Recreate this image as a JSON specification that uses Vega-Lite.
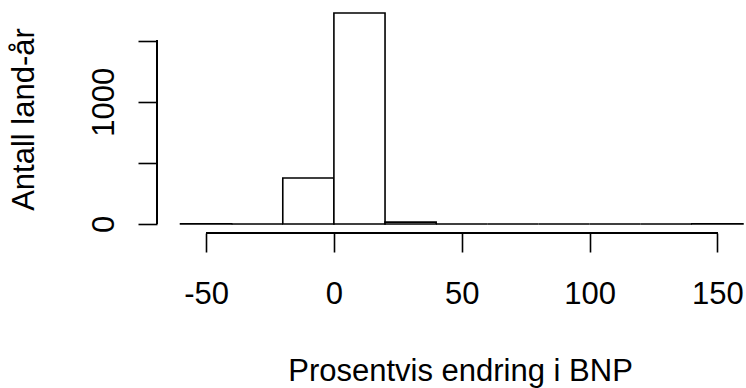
{
  "$schema": "https://vega.github.io/schema/vega-lite/v6.json",
  "width": 589,
  "height": 228,
  "autosize": "none",
  "padding": {"left": 157, "top": 5, "right": 0, "bottom": 155},
  "background": "white",
  "config": {
    "view": {"stroke": null},
    "font": "Liberation Sans",
    "axis": {"grid": false, "domain": false, "tickColor": "black", "tickWidth": 1.6, "tickSize": 19, "labelFont": "Liberation Sans", "labelFontSize": 31, "labelColor": "black", "titleFont": "Liberation Sans", "titleFontSize": 31, "titleFontWeight": "normal", "titleColor": "black"}
  },
  "data": {"values": [
    {"lo": -60, "hi": -40, "count": 1},
    {"lo": -40, "hi": -20, "count": 0},
    {"lo": -20, "hi": 0, "count": 376},
    {"lo": 0, "hi": 20, "count": 1725},
    {"lo": 20, "hi": 40, "count": 15},
    {"lo": 40, "hi": 60, "count": 0},
    {"lo": 60, "hi": 80, "count": 0},
    {"lo": 80, "hi": 100, "count": 0},
    {"lo": 100, "hi": 120, "count": 0},
    {"lo": 120, "hi": 140, "count": 0},
    {"lo": 140, "hi": 160, "count": 1}
  ]},
  "layer": [
    {
      "mark": {"type": "bar", "fill": "white", "stroke": "black", "strokeWidth": 1.6, "clip": true},
      "encoding": {
        "x": {"field": "lo", "type": "quantitative",
          "scale": {"domain": [-69.2, 161.2], "nice": false, "zero": false},
          "axis": {"values": [-50, 0, 50, 100, 150], "labelExpr": "toString(datum.value)", "labelPadding": 51, "labelBaseline": "alphabetic", "labelFlush": false, "labelOverlap": false,
            "title": "Prosentvis endring i BNP", "titleX": 303, "titleY": 147, "titleBaseline": "alphabetic", "titleAlign": "center"}},
        "x2": {"field": "hi"},
        "y": {"field": "count", "type": "quantitative",
          "scale": {"domain": [-73.6, 1790.7], "nice": false, "zero": false},
          "axis": {"values": [0, 500, 1000, 1500], "labelExpr": "datum.value == 0 || datum.value == 1000 ? toString(datum.value) : ''", "labelAngle": -90, "labelAlign": "center", "labelBaseline": "alphabetic", "labelPadding": 25, "labelFlush": false, "labelOverlap": false,
            "title": "Antall land-år", "titleX": -124, "titleBaseline": "alphabetic", "titleAngle": -90}},
        "y2": {"datum": 0}
      }
    },
    {
      "mark": {"type": "rule", "color": "black", "strokeWidth": 1.6},
      "encoding": {
        "x": {"datum": -50, "type": "quantitative"},
        "x2": {"datum": 150},
        "y": {"datum": -73.6, "type": "quantitative"}
      }
    },
    {
      "mark": {"type": "rule", "color": "black", "strokeWidth": 1.6},
      "encoding": {
        "x": {"datum": -69.2, "type": "quantitative"},
        "y": {"datum": 0, "type": "quantitative"},
        "y2": {"datum": 1500}
      }
    }
  ]
}
